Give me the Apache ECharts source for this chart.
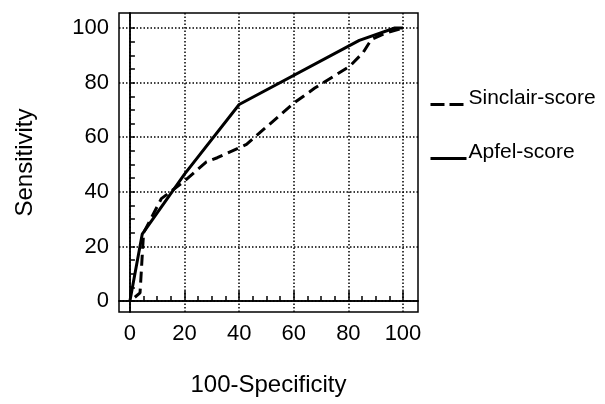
<!DOCTYPE html>
<html>
<head>
<meta charset="utf-8">
<script src="https://cdn.jsdelivr.net/npm/echarts@6/dist/echarts.min.js"></script>
<style>html,body{margin:0;padding:0;background:#fff;}#c{width:605px;height:404px;}</style>
</head>
<body>
<div id="c"></div>
<script>
var tickLabels = [0, 20, 40, 60, 80, 100];
var minorTicks = [0,5,10,15,20,25,30,35,40,45,50,55,60,65,70,75,80,85,90,95,100];
var seriesNames = ['Sinclair-score', 'Apfel-score'];
var sinclairX = [1.8, 3.7, 4.0, 5.0, 11.5, 20, 28, 32, 42.7, 60, 67.7, 80.5, 85.4, 88.4, 93.9, 100];
var sinclairY = [1.4, 3.0, 8.0, 25.0, 37.5, 44, 51, 52.5, 57.4, 72.5, 78, 86, 91, 95.8, 98.2, 100];
var apfelX = [0, 4.5, 20, 40, 84, 97, 100];
var apfelY = [0, 24.5, 46.5, 72, 95.5, 100, 100];

function pairs(xs, ys) { return xs.map(function (x, i) { return [x, ys[i]]; }); }

var FONT = "'Liberation Sans', Arial, sans-serif";
var chart = echarts.init(document.getElementById('c'), null, {renderer: 'canvas'});
var axisBase = function (extra) {
  return Object.assign({
    type: 'value', min: -4, max: 105.5,
    axisLine: {show: true, lineStyle: {color: '#000', width: 1.5}},
  }, extra);
};
var gridDot = {show: true, lineStyle: {color: '#000', type: [1.5, 2], width: 1.5}};
var tickStyle = {color: '#000', width: 1.5};
chart.setOption({
  animation: false,
  backgroundColor: '#fff',
  textStyle: {fontFamily: FONT, color: '#000'},
  grid: {left: 119, top: 13, width: 299, height: 299, show: true, borderColor: '#000', borderWidth: 1.5, containLabel: false},
  legend: {
    orient: 'vertical', left: 424, top: 83, itemWidth: 36, itemHeight: 14, itemGap: 32,
    data: [
      {name: seriesNames[0], lineStyle: {color: '#000', width: 3, type: [14, 5]}},
      {name: seriesNames[1], lineStyle: {color: '#000', width: 3, type: 'solid'}}
    ],
    itemStyle: {opacity: 0},
    formatter: '{t|{name}}',
    textStyle: {
      fontFamily: FONT, fontSize: 21, color: '#000',
      rich: {t: {fontFamily: FONT, fontSize: 21, color: '#000', padding: [0, 0, 12, -3]}}
    }
  },
  xAxis: [
    axisBase({
      position: 'bottom',
      name: '100-Specificity', nameLocation: 'middle', nameGap: 61,
      nameTextStyle: {fontFamily: FONT, fontSize: 24, color: '#000'},
      axisLabel: {customValues: tickLabels, fontFamily: FONT, fontSize: 22, color: '#000', margin: 11},
      axisTick: {customValues: tickLabels, inside: true, length: 10, lineStyle: tickStyle},
      splitLine: gridDot
    }),
    axisBase({
      position: 'bottom',
      axisLabel: {show: false},
      axisTick: {customValues: minorTicks, inside: true, length: 5, lineStyle: tickStyle},
      splitLine: {show: false}
    })
  ],
  yAxis: [
    axisBase({
      position: 'left',
      name: 'Sensitivity', nameLocation: 'middle', nameGap: 82, nameRotate: 90,
      nameTextStyle: {fontFamily: FONT, fontSize: 24, color: '#000'},
      axisLabel: {customValues: tickLabels, fontFamily: FONT, fontSize: 22, color: '#000', margin: 10},
      axisTick: {customValues: tickLabels, inside: true, length: 5, lineStyle: tickStyle},
      splitLine: gridDot
    }),
    axisBase({
      position: 'left',
      axisLabel: {show: false},
      axisTick: {customValues: minorTicks, inside: true, length: 5, lineStyle: tickStyle},
      splitLine: {show: false}
    })
  ],
  series: [
    {
      name: seriesNames[0], type: 'line', symbol: 'none', xAxisIndex: 0, yAxisIndex: 0,
      data: pairs(sinclairX, sinclairY),
      lineStyle: {color: '#000', width: 3, type: [11, 6]},
      itemStyle: {color: '#000'}
    },
    {
      name: seriesNames[1], type: 'line', symbol: 'none', xAxisIndex: 0, yAxisIndex: 0,
      data: pairs(apfelX, apfelY),
      lineStyle: {color: '#000', width: 3},
      itemStyle: {color: '#000'}
    }
  ]
});
</script>
</body>
</html>
